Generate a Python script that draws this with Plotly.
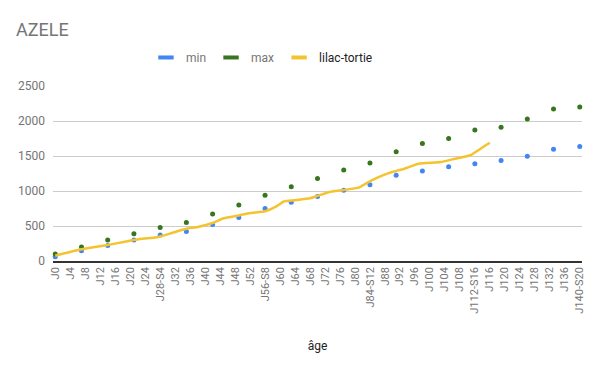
import plotly.graph_objects as go

# Categories: one per day J0..J140, weekly days carry the week number
days = list(range(0, 141))
categories = [f"J{d}-S{d // 7}" if (d % 7 == 0 and d > 0) else f"J{d}" for d in days]
tick_labels = [categories[d] for d in range(0, 141, 4)]

# Weekly reference points (min / max)
week_days = [0, 7, 14, 21, 28, 35, 42, 49, 56, 63, 70, 77, 84, 91, 98, 105, 112, 119, 126, 133, 140]
min_values = [60, 145, 220, 300, 370, 420, 520, 620, 750, 840, 920, 1010, 1090, 1225, 1285, 1345, 1390, 1435, 1495, 1595, 1635]
max_values = [100, 200, 300, 390, 480, 550, 670, 800, 940, 1060, 1180, 1300, 1400, 1560, 1680, 1750, 1870, 1910, 2030, 2170, 2200]

# Kitten weights (lilac-tortie)
kitten_days = [0, 7, 14, 21, 27, 28, 32, 35, 38, 42, 45, 49, 52, 56, 59, 61, 64, 68, 70, 73, 77,
               81, 83, 86, 89, 91, 94, 97, 103, 106, 111, 113, 115, 116]
kitten_values = [76, 167, 229, 300, 339, 350, 415, 460, 487, 543, 610, 651, 686, 710, 780, 850, 869, 897, 930, 983, 1014,
                 1048, 1110, 1190, 1255, 1286, 1333, 1390, 1414, 1452, 1514, 1586, 1657, 1690]

MIN_COLOR = "#4285F4"
MAX_COLOR = "#38761D"
LINE_COLOR = "#F4C430"

fig = go.Figure()

fig.add_trace(go.Scatter(
    x=[categories[d] for d in week_days], y=min_values, mode="markers",
    marker=dict(color=MIN_COLOR, size=5), showlegend=False, cliponaxis=False, name="min"))
fig.add_trace(go.Scatter(
    x=[categories[d] for d in week_days], y=max_values, mode="markers",
    marker=dict(color=MAX_COLOR, size=5), showlegend=False, cliponaxis=False, name="max"))
fig.add_trace(go.Scatter(
    x=[categories[d] for d in kitten_days], y=kitten_values, mode="lines",
    line=dict(color=LINE_COLOR, width=2.5, shape="spline", smoothing=0.5),
    showlegend=False, name="lilac-tortie"))

# legend entries (short bar icons like the original)
for nm, col in [("min", MIN_COLOR), ("max", MAX_COLOR),
                ("<span style='color:#222222'>lilac-tortie</span>", LINE_COLOR)]:
    fig.add_trace(go.Scatter(
        x=[None], y=[None], mode="markers", name=nm,
        marker=dict(symbol="line-ew", size=11, color=col, line=dict(color=col, width=4))))

# The page body has an 8px margin, so the figure is 8px smaller than the window
fig.update_layout(
    width=592, height=363,
    paper_bgcolor="white", plot_bgcolor="white",
    font=dict(family="Roboto, Arial, sans-serif", size=12, color="#757575"),
    title=dict(text="AZELE", x=0.0135, xanchor="left", y=0.939, yanchor="middle",
               font=dict(size=18, color="#757575"), automargin=False),
    margin=dict(l=45, r=18, t=78, b=110, autoexpand=False),
    showlegend=True,
    legend=dict(orientation="h", x=0.395, xanchor="center", y=1.163, yanchor="middle",
                font=dict(size=12, color="#757575"), itemwidth=30, tracegroupgap=0),
    xaxis=dict(
        type="category", categoryorder="array", categoryarray=categories,
        range=[-0.6, 140.6], tickmode="array", tickvals=tick_labels, ticktext=tick_labels,
        tickangle=-90, tickfont=dict(size=11, color="#757575"), showgrid=False,
        showline=True, linecolor="#333333", linewidth=1.5, ticks="", automargin=False,
        title=dict(text="âge", font=dict(size=12, color="#222222"), standoff=29),
    ),
    yaxis=dict(
        range=[0, 2500], tickvals=[0, 500, 1000, 1500, 2000, 2500], automargin=False,
        showgrid=True, gridcolor="#cccccc", gridwidth=1, zeroline=False,
        tickfont=dict(size=12, color="#757575"), ticklabelstandoff=7,
    ),
)

fig.write_html("out.html")
